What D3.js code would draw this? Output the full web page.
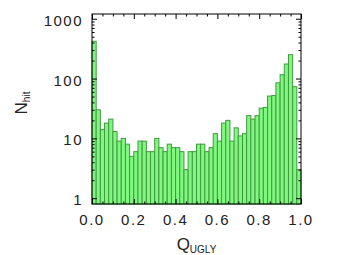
<!DOCTYPE html>
<html>
<head>
<meta charset="utf-8">
<script src="https://cdn.jsdelivr.net/npm/d3@7"></script>
<style>
  body { margin: 0; background: #fff; }
  text { font-family: "Liberation Sans", Arial, sans-serif; fill: #222; }
</style>
</head>
<body>
<svg id="chart" width="337" height="255"></svg>
<script>
// histogram of Q_UGLY, bin size 0.02
const binSize = 0.02;
const counts = [420, 30, 14, 18, 21, 13, 9, 10, 8, 5,
                6, 9, 9, 6, 6, 10, 7, 6, 8, 7,
                7, 6, 3, 6, 6, 8, 8, 6, 7, 12,
                9, 18, 20, 9, 15, 11, 12, 24, 21, 24,
                32, 33, 51, 52, 85, 116, 175, 251, 73, 3];
const xTicks = [0, 0.2, 0.4, 0.6, 0.8, 1.0];
const yTicks = [1, 10, 100, 1000];

const svg = d3.select("#chart");
const plotL = 92, plotR = 301, plotT = 14, plotB = 204;

const x = d3.scaleLinear().domain([0, 1]).range([plotL, plotR]);
const y = d3.scaleLog().domain([0.8, 1200]).range([plotB, plotT]);

// bars
svg.append("g")
  .selectAll("rect")
  .data(counts)
  .join("rect")
    .attr("x", (d, i) => x(i * binSize))
    .attr("y", d => y(d))
    .attr("width", x(binSize) - x(0))
    .attr("height", d => plotB - y(d))
    .attr("fill", "#80f880")
    .attr("stroke", "#3f9a3f")
    .attr("stroke-width", 1);

// minor tick values
const xMinor = d3.range(0, 1.0001, 0.05).filter(v => Math.abs(v / 0.2 - Math.round(v / 0.2)) > 1e-6);
const yMinor = [];
[1, 10, 100].forEach(p => { for (let k = 2; k <= 9; k++) yMinor.push(p * k); });

function ticks(axis, pos, values, size) {
  const g = svg.append("g").attr("transform", pos)
    .call(axis.tickValues(values).tickSizeInner(size).tickSizeOuter(0).tickFormat(""));
  g.select(".domain").remove();
  g.selectAll("line").attr("stroke", "#000");
}

ticks(d3.axisBottom(x), `translate(0,${plotT})`, xTicks, 5);
ticks(d3.axisBottom(x), `translate(0,${plotT})`, xMinor, 2.5);
ticks(d3.axisTop(x), `translate(0,${plotB})`, xTicks, 5);
ticks(d3.axisTop(x), `translate(0,${plotB})`, xMinor, 2.5);
ticks(d3.axisRight(y), `translate(${plotL},0)`, yTicks, 5);
ticks(d3.axisRight(y), `translate(${plotL},0)`, yMinor, 2.5);
ticks(d3.axisLeft(y), `translate(${plotR},0)`, yTicks, 5);
ticks(d3.axisLeft(y), `translate(${plotR},0)`, yMinor, 2.5);

// frame
svg.append("rect")
  .attr("x", plotL).attr("y", plotT)
  .attr("width", plotR - plotL).attr("height", plotB - plotT)
  .attr("fill", "none").attr("stroke", "#000").attr("stroke-width", 1);

// tick labels
svg.append("g").selectAll("text")
  .data(xTicks)
  .join("text")
    .attr("x", d => x(d))
    .attr("y", plotB + 21)
    .attr("text-anchor", "middle")
    .attr("font-size", 15)
    .attr("letter-spacing", 1.5)
    .text(d => d.toFixed(1));

svg.append("g").selectAll("text")
  .data(yTicks)
  .join("text")
    .attr("x", plotL - 9)
    .attr("y", d => y(d) + 7)
    .attr("text-anchor", "end")
    .attr("font-size", 15)
    .attr("letter-spacing", 1.5)
    .text(d => d);

// axis titles
const xt = svg.append("text")
  .attr("x", (plotL + plotR) / 2)
  .attr("y", 250)
  .attr("text-anchor", "middle")
  .attr("font-size", 17);
xt.append("tspan").text("Q");
xt.append("tspan").attr("font-size", 10).attr("dy", 3).text("UGLY");

const yt = svg.append("text")
  .attr("transform", "translate(27,103) rotate(-90)")
  .attr("text-anchor", "middle")
  .attr("font-size", 17);
yt.append("tspan").text("N");
yt.append("tspan").attr("font-size", 10).attr("dy", 3).text("hit");
</script>
</body>
</html>
